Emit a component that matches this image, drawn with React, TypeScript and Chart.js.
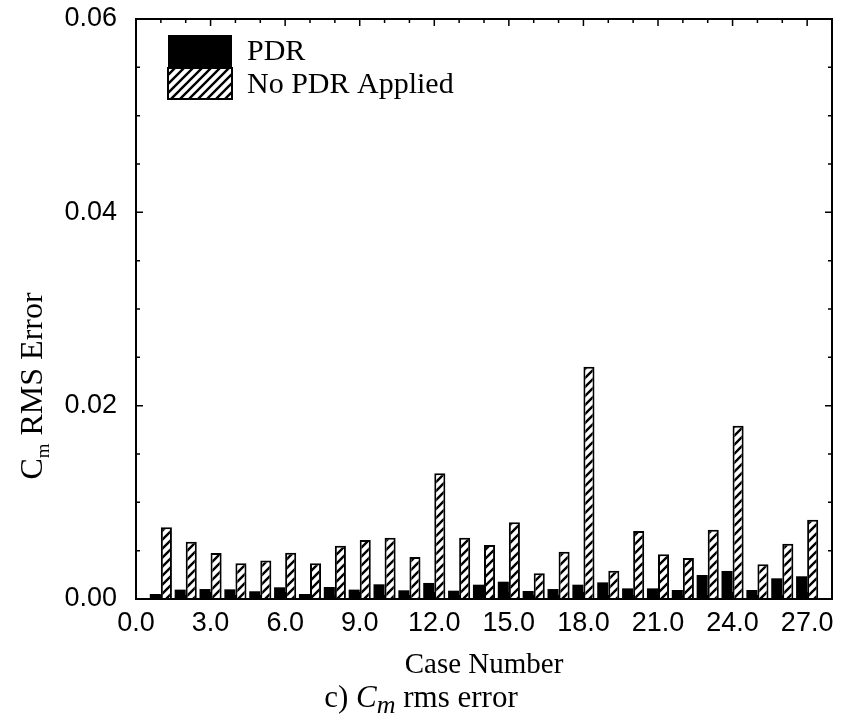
import React, { useEffect, useRef } from 'react';
import { Chart, registerables } from 'chart.js';

Chart.register(...registerables);

const cases = [1, 2, 3, 4, 5, 6, 7, 8, 9, 10, 11, 12, 13, 14, 15, 16, 17, 18, 19, 20, 21, 22, 23, 24, 25, 26, 27];
const pdrValues = [0.00052, 0.00097, 0.00103, 0.001, 0.0008, 0.00121, 0.00052, 0.00124, 0.00097, 0.00152, 0.0009, 0.00166, 0.00086, 0.00148, 0.00179, 0.00083, 0.00103, 0.00148, 0.00172, 0.0011, 0.0011, 0.00093, 0.00248, 0.0029, 0.00093, 0.00214, 0.00235];
const noPdrValues = [0.00741, 0.00593, 0.00476, 0.00369, 0.00397, 0.00479, 0.00369, 0.00552, 0.0061, 0.00634, 0.00434, 0.0130, 0.00633, 0.00559, 0.00793, 0.00266, 0.0049, 0.02403, 0.00293, 0.00703, 0.00462, 0.00424, 0.00717, 0.01793, 0.00359, 0.00572, 0.0082];
const seriesLabels = ['PDR', 'No PDR Applied'];
const xTickValues = [0, 3, 6, 9, 12, 15, 18, 21, 24, 27];
const xTickLabels = ['0.0', '3.0', '6.0', '9.0', '12.0', '15.0', '18.0', '21.0', '24.0', '27.0'];
const yTickValues = [0, 0.02, 0.04, 0.06];
const yTickLabels = ['0.00', '0.02', '0.04', '0.06'];
const yMinorStep = 0.005;
const xMax = 28;
const xTitle = 'Case Number';

const SANS = '"Liberation Sans", Arial, Helvetica, sans-serif';
const SERIF = '"Liberation Serif", "Times New Roman", serif';

function makeHatch(): CanvasPattern | string {
  const n = 9;
  const c = document.createElement('canvas');
  c.width = n;
  c.height = n;
  const g = c.getContext('2d');
  if (!g) return '#fff';
  g.fillStyle = '#fff';
  g.fillRect(0, 0, n, n);
  g.strokeStyle = '#000';
  g.lineWidth = 2.4;
  g.beginPath();
  g.moveTo(-1, n + 1);
  g.lineTo(n + 1, -1);
  g.moveTo(-n / 2 - 1, n / 2 + 1);
  g.lineTo(n / 2 + 1, -n / 2 - 1);
  g.moveTo(n / 2 - 1, n * 1.5 + 1);
  g.lineTo(n * 1.5 + 1, n / 2 - 1);
  g.stroke();
  const p = g.createPattern(c, 'repeat');
  return p || '#fff';
}

const frameTicksPlugin = {
  id: 'frameTicks',
  beforeDatasetsDraw(chart: any) {
    const { ctx, chartArea, scales } = chart;
    const { bottom } = chartArea;
    ctx.save();
    ctx.strokeStyle = '#000';
    ctx.lineWidth = 1.5;
    ctx.beginPath();
    for (const c of cases) {
      const px = scales.x.getPixelForValue(c);
      const len = c % 3 === 0 ? 7 : 4;
      ctx.moveTo(px, bottom);
      ctx.lineTo(px, bottom - len);
    }
    ctx.stroke();
    ctx.restore();
  },
  afterDatasetsDraw(chart: any) {
    const { ctx, chartArea, scales } = chart;
    const { left, right, top, bottom } = chartArea;
    ctx.save();
    ctx.strokeStyle = '#000';
    ctx.lineWidth = 1.5;
    ctx.beginPath();
    for (const c of cases) {
      const px = scales.x.getPixelForValue(c);
      const len = c % 3 === 0 ? 7 : 4;
      ctx.moveTo(px, top);
      ctx.lineTo(px, top + len);
    }
    const yMax = yTickValues[yTickValues.length - 1];
    for (let k = 1; k * yMinorStep < yMax - 1e-9; k++) {
      const v = k * yMinorStep;
      const py = scales.y.getPixelForValue(v);
      const major = yTickValues.some((t) => Math.abs(t - v) < 1e-9);
      const len = major ? 7 : 4;
      ctx.moveTo(left, py);
      ctx.lineTo(left + len, py);
      ctx.moveTo(right, py);
      ctx.lineTo(right - len, py);
    }
    ctx.stroke();
    ctx.lineWidth = 2;
    ctx.strokeRect(left, top, right - left, bottom - top);
    ctx.restore();
  },
  afterDraw(chart: any) {
    const { ctx, chartArea } = chart;
    const { left, right, top, bottom } = chartArea;
    ctx.save();
    // Legend
    const bx = left + 32;
    const bw = 64;
    const by0 = top + 16;
    const bh = 33;
    const ds = chart.data.datasets;
    for (let i = 0; i < ds.length; i++) {
      const y0 = by0 + i * bh;
      ctx.fillStyle = ds[i].backgroundColor;
      ctx.fillRect(bx, y0, bw, bh - (i === 0 ? 0 : 2));
      if (i > 0) {
        ctx.strokeStyle = '#000';
        ctx.lineWidth = 2;
        ctx.strokeRect(bx, y0, bw, bh - 2);
      }
      ctx.fillStyle = '#000';
      ctx.font = `30px ${SERIF}`;
      ctx.textAlign = 'left';
      ctx.textBaseline = 'middle';
      ctx.fillText(ds[i].label, bx + bw + 15, y0 + bh / 2 + 1);
    }
    // X title
    ctx.fillStyle = '#000';
    ctx.font = `29px ${SERIF}`;
    ctx.textAlign = 'center';
    ctx.textBaseline = 'alphabetic';
    ctx.fillText(xTitle, (left + right) / 2, bottom + 74);

    // Caption: c) C_m rms error
    const capY = bottom + 108;
    const partA = 'c) ';
    const partC = 'C';
    const partM = 'm';
    const partB = ' rms error';
    const capF = 31;
    const capS = 26;
    ctx.font = `${capF}px ${SERIF}`;
    const wA = ctx.measureText(partA).width;
    const wB = ctx.measureText(partB).width;
    ctx.font = `italic ${capF}px ${SERIF}`;
    const wC = ctx.measureText(partC).width;
    ctx.font = `italic ${capS}px ${SERIF}`;
    const wM = ctx.measureText(partM).width;
    let cx = 421 - (wA + wC + wM + wB) / 2;
    ctx.textAlign = 'left';
    ctx.font = `${capF}px ${SERIF}`;
    ctx.fillText(partA, cx, capY);
    cx += wA;
    ctx.font = `italic ${capF}px ${SERIF}`;
    ctx.fillText(partC, cx, capY);
    cx += wC;
    ctx.font = `italic ${capS}px ${SERIF}`;
    ctx.fillText(partM, cx, capY + 6);
    cx += wM;
    ctx.font = `${capF}px ${SERIF}`;
    ctx.fillText(partB, cx, capY);

    // Y title: C_m RMS Error (rotated)
    ctx.save();
    const ty = 34;
    const tcy = 386;
    ctx.translate(ty, tcy);
    ctx.rotate(-Math.PI / 2);
    const yPartC = 'C';
    const yPartM = 'm';
    const yPartB = ' RMS Error';
    const yF = 32;
    const yS = 19;
    ctx.font = `${yF}px ${SERIF}`;
    const ywC = ctx.measureText(yPartC).width;
    const ywB = ctx.measureText(yPartB).width;
    ctx.font = `${yS}px ${SERIF}`;
    const ywM = ctx.measureText(yPartM).width;
    let yx = -(ywC + ywM + ywB) / 2;
    ctx.textBaseline = 'middle';
    ctx.font = `${yF}px ${SERIF}`;
    ctx.fillText(yPartC, yx, 0);
    yx += ywC;
    ctx.font = `${yS}px ${SERIF}`;
    ctx.fillText(yPartM, yx, 10);
    yx += ywM;
    ctx.font = `${yF}px ${SERIF}`;
    ctx.fillText(yPartB, yx, 0);
    ctx.restore();

    ctx.restore();
  },
};

export default function App() {
  const ref = useRef<HTMLCanvasElement | null>(null);

  useEffect(() => {
    document.body.style.margin = '0';
    const canvas = ref.current;
    if (!canvas) return;
    const hatch = makeHatch();
    const chart = new Chart(canvas, {
      type: 'bar',
      data: {
        datasets: [
          {
            label: seriesLabels[0],
            data: cases.map((c, i) => ({ x: c, y: pdrValues[i] })),
            backgroundColor: '#000',
            borderColor: '#000',
            borderWidth: 0,
            barPercentage: 1,
            categoryPercentage: 0.89,
          },
          {
            label: seriesLabels[1],
            data: cases.map((c, i) => ({ x: c, y: noPdrValues[i] })),
            backgroundColor: hatch as any,
            borderColor: '#000',
            borderWidth: 2,
            barPercentage: 1,
            categoryPercentage: 0.89,
          },
        ],
      },
      options: {
        responsive: false,
        animation: false,
        devicePixelRatio: 1,
        layout: { padding: { top: 19, right: 13, left: 0, bottom: 0 } },
        plugins: {
          legend: { display: false },
          tooltip: { enabled: false },
          title: { display: false },
        },
        scales: {
          x: {
            type: 'linear',
            min: 0,
            max: xMax,
            offset: false,
            grid: { display: false, drawTicks: false, offset: false },
            border: { display: false },
            afterFit: (s: any) => {
              s.height = 122;
              s.paddingLeft = 0;
              s.paddingRight = 0;
            },
            afterBuildTicks: (s: any) => {
              s.ticks = xTickValues.map((v) => ({ value: v }));
            },
            ticks: {
              autoSkip: false,
              maxRotation: 0,
              padding: 8,
              color: '#000',
              font: { family: SANS, size: 27 },
              callback: (v: any) => {
                const idx = xTickValues.indexOf(Number(v));
                return idx >= 0 ? xTickLabels[idx] : '';
              },
            },
          },
          y: {
            type: 'linear',
            min: 0,
            max: 0.06,
            grid: { display: false, drawTicks: false },
            border: { display: false },
            afterFit: (s: any) => {
              s.width = 136;
              s.paddingTop = 0;
              s.paddingBottom = 0;
            },
            afterBuildTicks: (s: any) => {
              s.ticks = yTickValues.map((v) => ({ value: v }));
            },
            ticks: {
              padding: 19,
              color: '#000',
              font: { family: SANS, size: 27 },
              callback: (v: any) => {
                const idx = yTickValues.findIndex((t) => Math.abs(t - Number(v)) < 1e-9);
                return idx >= 0 ? yTickLabels[idx] : '';
              },
            },
          },
        },
      },
      plugins: [frameTicksPlugin],
    } as any);
    return () => chart.destroy();
  }, []);

  return (
    <div style={{ position: 'absolute', left: 0, top: 0, width: 845, height: 721, background: '#fff' }}>
      <canvas ref={ref} width={845} height={721} style={{ width: 845, height: 721, display: 'block' }} />
    </div>
  );
}
